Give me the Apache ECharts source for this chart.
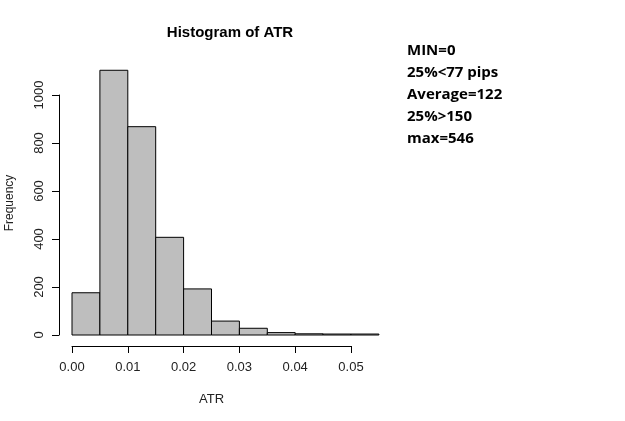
<!DOCTYPE html>
<html>
<head>
<meta charset="utf-8">
<script src="https://cdn.jsdelivr.net/npm/echarts@6/dist/echarts.min.js"></script>
<style>
	html, body { margin: 0; padding: 0; background: #fff; }
	#chart { width: 625px; height: 421px; }
</style>
</head>
<body>
<div id="chart"></div>
<script>
	// bin edges (ATR) and counts
	var binStart = [0.000, 0.005, 0.010, 0.015, 0.020, 0.025, 0.030, 0.035, 0.040, 0.045, 0.050];
	var binEnd = [0.005, 0.010, 0.015, 0.020, 0.025, 0.030, 0.035, 0.040, 0.045, 0.050, 0.055];
	var counts = [176, 1103, 868, 407, 192, 58, 28, 10, 5, 4, 4];
	var xTicks = [0, 0.01, 0.02, 0.03, 0.04, 0.05];
	var yTicks = [0, 200, 400, 600, 800, 1000];
	var notes = ['MIN=0', '25%<77 pips', 'Average=122', '25%>150', 'max=546'];

	var bins = binStart.map(function (s, i) {
		return [s, binEnd[i], counts[i]];
	});

	var chart = echarts.init(document.getElementById('chart'));
	var option = {
		animation: false,
		backgroundColor: '#fff',
		title: {
			text: 'Histogram of ATR',
			left: 225,
			top: 20,
			textAlign: 'center',
			textStyle: {
				fontFamily: 'Liberation Sans',
				fontWeight: 'bold',
				fontSize: 15,
				color: '#000'
			}
		},
		grid: {
			left: 72,
			right: 274,
			top: 95,
			bottom: 86
		},
		xAxis: {
			type: 'value',
			min: xTicks[0],
			max: xTicks[xTicks.length - 1],
			interval: 0.01,
			offset: 11,
			name: 'ATR',
			nameLocation: 'middle',
			nameGap: 47,
			nameTextStyle: { fontFamily: 'Liberation Sans', fontSize: 13, color: '#222' },
			axisLine: { show: true, onZero: false, lineStyle: { color: '#000', width: 1 } },
			axisTick: { show: true, length: 7, lineStyle: { color: '#000' } },
			axisLabel: {
				margin: 15,
				fontFamily: 'Liberation Sans',
				fontSize: 13,
				color: '#222',
				formatter: function (v) { return v.toFixed(2); }
			},
			splitLine: { show: false }
		},
		yAxis: {
			type: 'value',
			min: yTicks[0],
			max: yTicks[yTicks.length - 1],
			interval: 200,
			offset: 13,
			axisLine: { show: true, onZero: false, lineStyle: { color: '#000', width: 1 } },
			axisTick: { show: true, length: 7, lineStyle: { color: '#000' } },
			axisLabel: {
				rotate: 90,
				margin: 13,
				fontFamily: 'Liberation Sans',
				fontSize: 13,
				color: '#222',
				formatter: function (v) { return String(v); }
			},
			splitLine: { show: false }
		},
		graphic: [{
			type: 'text',
			x: 10,
			y: 203,
			rotation: Math.PI / 2,
			style: {
				text: 'Frequency',
				font: '12px "Liberation Sans"',
				fill: '#222',
				align: 'center',
				verticalAlign: 'middle'
			}
		}, {
			type: 'text',
			left: 407,
			top: 40,
			style: {
				text: notes.join('\n'),
				font: 'bold 15px "Open Sans"',
				lineHeight: 22,
				fill: '#000'
			}
		}],
		series: [{
			type: 'custom',
			clip: false,
			data: bins,
			renderItem: function (params, api) {
				var p0 = api.coord([api.value(0), api.value(2)]);
				var p1 = api.coord([api.value(1), 0]);
				return {
					type: 'rect',
					shape: { x: p0[0], y: p0[1], width: p1[0] - p0[0], height: p1[1] - p0[1] },
					style: { fill: '#bebebe', stroke: '#000', lineWidth: 1 }
				};
			}
		}]
	};
	chart.setOption(option);
</script>
</body>
</html>
